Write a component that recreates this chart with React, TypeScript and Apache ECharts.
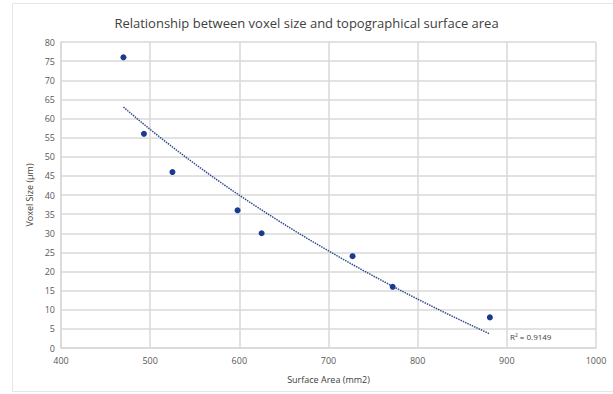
import React, { useEffect, useRef } from "react";
import * as echarts from "echarts";

const surfaceArea = [470, 493, 525, 598, 625, 727, 772, 881];
const voxelSize = [76, 56, 46, 36, 30, 24, 16, 8];
const xTicks = [400, 1000, 100];
const yTicks = [0, 80, 5];
const r2Label = "R² = 0.9149";

function logFit(xs: number[], ys: number[]) {
  const lx = xs.map((v) => Math.log(v));
  const n = xs.length;
  const mx = lx.reduce((a, b) => a + b, 0) / n;
  const my = ys.reduce((a, b) => a + b, 0) / n;
  let sxy = 0, sxx = 0;
  for (let i = 0; i < n; i++) {
    sxy += (lx[i] - mx) * (ys[i] - my);
    sxx += (lx[i] - mx) ** 2;
  }
  const a = sxy / sxx;
  const b = my - a * mx;
  return { a, b };
}

export default function App() {
  const ref = useRef<HTMLDivElement>(null);
  useEffect(() => {
    if (!ref.current) return;
    const chart = echarts.init(ref.current, null, { renderer: "svg" });
    const fit = logFit(surfaceArea, voxelSize);
    const xmin = Math.min(...surfaceArea);
    const xmax = Math.max(...surfaceArea);
    const trend: number[][] = [];
    const steps = 60;
    for (let i = 0; i <= steps; i++) {
      const x = xmin + ((xmax - xmin) * i) / steps;
      trend.push([x, fit.a * Math.log(x) + fit.b]);
    }
    const font = "'Open Sans', 'Liberation Sans', sans-serif";
    chart.setOption({
      animation: false,
      backgroundColor: "#ffffff",
      title: {
        text: "Relationship between voxel size and topographical surface area",
        left: "center",
        top: 11,
        textStyle: { fontFamily: font, fontSize: 13, fontWeight: "normal", color: "#404040" },
      },
      grid: { left: 61, right: 17, top: 42, bottom: 46 },
      xAxis: {
        type: "value",
        min: xTicks[0],
        max: xTicks[1],
        interval: xTicks[2],
        name: "Surface Area (mm2)",
        nameLocation: "middle",
        nameGap: 27,
        nameTextStyle: { fontFamily: font, fontSize: 9, color: "#404040" },
        axisLine: { show: true, lineStyle: { color: "#d9d9d9", width: 1.5 } },
        axisTick: { show: false },
        axisLabel: {
          fontFamily: font,
          fontSize: 9,
          color: "#595959",
          margin: 8,
          formatter: (v: number) => String(v),
        },
        splitLine: { show: true, lineStyle: { color: "#d9d9d9", width: 1.5 } },
      },
      yAxis: {
        type: "value",
        min: yTicks[0],
        max: yTicks[1],
        interval: yTicks[2],
        name: "Voxel Size (µm)",
        nameLocation: "middle",
        nameRotate: 90,
        nameGap: 21,
        nameTextStyle: { fontFamily: font, fontSize: 9, color: "#404040" },
        axisLine: { show: true, lineStyle: { color: "#d9d9d9", width: 1.5 } },
        axisTick: { show: false },
        axisLabel: { fontFamily: font, fontSize: 9, color: "#595959", margin: 6 },
        splitLine: { show: true, lineStyle: { color: "#d9d9d9", width: 1.5 } },
      },
      series: [
        {
          type: "scatter",
          data: surfaceArea.map((x, i) => [x, voxelSize[i]]),
          symbol: "circle",
          symbolSize: 6,
          itemStyle: { color: "#1a3a8f", opacity: 1 },
          z: 3,
        },
        {
          type: "line",
          data: trend,
          showSymbol: false,
          smooth: false,
          lineStyle: { color: "#2f4a8a", width: 1.5, type: [1.5, 1] },
          z: 2,
        },
      ],
      graphic: [
        {
          type: "rect",
          shape: { x: 12.5, y: 3.5, width: 620, height: 388 },
          style: { fill: "none", stroke: "#e6e6e6", lineWidth: 1 },
          silent: true,
        },
        {
          type: "text",
          x: 510,
          y: 332,
          style: {
            text: r2Label,
            font: "8px " + font,
            fill: "#404040",
          },
        },
      ],
    });
    return () => chart.dispose();
  }, []);
  return (
    <div
      ref={ref}
      style={{ position: "absolute", left: 0, top: 0, width: 613, height: 394 }}
    />
  );
}
